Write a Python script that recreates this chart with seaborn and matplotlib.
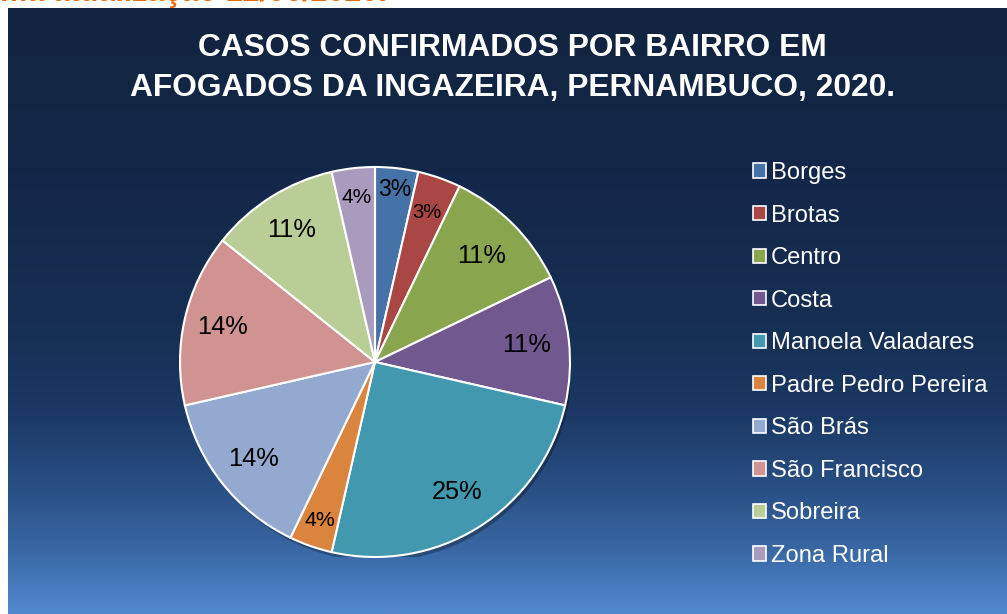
import numpy as np
import matplotlib
matplotlib.use("Agg")
import matplotlib.pyplot as plt
from matplotlib.colors import LinearSegmentedColormap
from matplotlib.patches import Patch, Circle
import seaborn as sns

sns.set_style("white")
plt.rcParams['font.family'] = ['Liberation Sans', 'DejaVu Sans']

bairros = ["Borges", "Brotas", "Centro", "Costa", "Manoela Valadares",
           "Padre Pedro Pereira", "São Brás", "São Francisco", "Sobreira", "Zona Rural"]
casos = [1, 1, 3, 3, 7, 1, 4, 4, 3, 1]
rotulos = ["3%", "3%", "11%", "11%", "25%", "4%", "14%", "14%", "11%", "4%"]
cores = ["#4572A7", "#AA4643", "#89A54E", "#71588F", "#4198AF",
         "#DB843D", "#93A9CF", "#D19392", "#B9CD96", "#A99BBD"]
titulo_l1 = "CASOS CONFIRMADOS POR BAIRRO EM"
titulo_l2 = "AFOGADOS DA INGAZEIRA, PERNAMBUCO, 2020."
nota = "Última atualização 12/06/2020."

# label tweaks (radius factor, font size)
rotulo_raio = [0.89, 0.81, 0.77, 0.78, 0.79, 0.86, 0.80, 0.80, 0.80, 0.85]
rotulo_tam = [16.5, 14.5, 18.3, 18.3, 18.3, 15.3, 18.3, 18.3, 18.3, 15]

W, H = 1007, 614
fig = plt.figure(figsize=(W / 100, H / 100), dpi=100)
fig.patch.set_facecolor("white")

# background gradient panel
bg = fig.add_axes([8 / W, 0, (W - 8) / W, (H - 8) / H])
cmap = LinearSegmentedColormap.from_list(
    "bg", [(0, "#12243F"), (0.3, "#13284A"), (0.55, "#173055"),
           (0.68, "#1C3A66"), (0.8, "#2A5186"), (0.9, "#3A69A6"),
           (1.0, "#5189CE")])
grad = np.linspace(0, 1, 256).reshape(-1, 1)
bg.imshow(grad, aspect="auto", cmap=cmap, extent=[0, 1, 1, 0])
bg.axis("off")

# cut-off orange note at the very top (as in the source image)
fig.text(387 / W, 1 - 1 / H, nota, color="#E46C0A",
         fontsize=22, fontweight="bold", ha="right", va="baseline")

fig.text(512 / W, 1 - 48 / H, titulo_l1, color="white", fontsize=22.9,
         fontweight="bold", ha="center", va="center")
fig.text(512 / W, 1 - 88 / H, titulo_l2, color="white", fontsize=22.9,
         fontweight="bold", ha="center", va="center")

# pie
R = 195
cx, cy = 375, 362
ax = fig.add_axes([(cx - R) / W, (H - cy - R) / H, 2 * R / W, 2 * R / H])
ax.add_patch(Circle((0.012, -0.022), 1.0, color="black", alpha=0.28,
                    zorder=0, linewidth=0))
it = iter(rotulos)
wedges, texts, autotexts = ax.pie(
    casos, colors=cores, startangle=90, counterclock=False,
    autopct=lambda p: next(it), pctdistance=0.79,
    wedgeprops=dict(edgecolor="white", linewidth=1.5))
for t, rf, fs in zip(autotexts, rotulo_raio, rotulo_tam):
    x, y = t.get_position()
    t.set_position((x * rf / 0.79, y * rf / 0.79))
    t.set_fontsize(fs)
    t.set_color("black")
ax.set_xlim(-1.0, 1.0)
ax.set_ylim(-1.0, 1.0)
ax.set_aspect("equal")
ax.axis("off")

handles = [Patch(facecolor=c, edgecolor="white", linewidth=1.2) for c in cores]
leg = fig.legend(handles, bairros, loc="upper left",
                 bbox_to_anchor=(753 / W, 1 - 162 / H), frameon=False,
                 borderpad=0, borderaxespad=0,
                 fontsize=17.1, labelcolor="white", handlelength=0.55,
                 handleheight=0.55, handletextpad=0.21, labelspacing=0.865)

fig.savefig("out.png", dpi=100)
